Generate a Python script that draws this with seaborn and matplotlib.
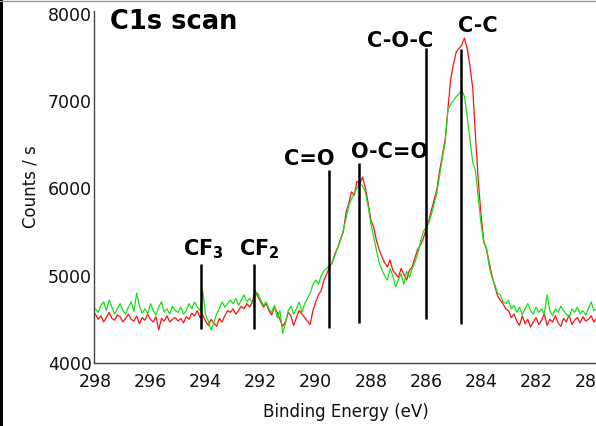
import numpy as np
import pandas as pd
import matplotlib
matplotlib.use("Agg")
import matplotlib.pyplot as plt
import seaborn as sns
from matplotlib.patches import Rectangle
from matplotlib.lines import Line2D

# ---------------- data ----------------
be_start, be_step = 298.0, -0.1   # binding energy sampling of the scan (eV)

red_counts = [
    4560, 4500, 4540, 4470, 4520, 4580, 4510, 4490, 4550, 4530,
    4470, 4510, 4560, 4500, 4480, 4540, 4450, 4520, 4490, 4560,
    4500, 4470, 4530, 4380, 4510, 4480, 4540, 4470, 4500, 4520,
    4480, 4510, 4460, 4530, 4500, 4570, 4540, 4600, 4520, 4550,
    4480, 4430, 4500, 4460, 4420, 4510, 4470, 4540, 4600, 4580,
    4620, 4560, 4600, 4650, 4620, 4680, 4640, 4700, 4830, 4760,
    4700, 4640, 4680, 4600, 4550, 4640, 4580, 4500, 4420, 4470,
    4580, 4540, 4430, 4520, 4600, 4560, 4520, 4480, 4440, 4600,
    4700, 4780, 4830, 4950, 5020, 5100, 5150, 5250, 5320, 5420,
    5500, 5720, 5830, 5960, 5920, 6080, 6050, 6130, 6010, 5840,
    5640, 5560, 5410, 5300, 5220, 5150, 5100, 5180, 5060, 5020,
    4980, 5080, 5020, 4950, 5060, 5100, 5200, 5300, 5350, 5420,
    5520, 5620, 5750, 5870, 5990, 6200, 6380, 6560, 6900, 7250,
    7420, 7560, 7600, 7640, 7720, 7600, 7400, 7150, 6600, 6100,
    5700, 5400, 5300, 5150, 5000, 4880, 4770, 4720, 4680, 4620,
    4600, 4520, 4560, 4480, 4430, 4540, 4450, 4500, 4410, 4470,
    4520, 4440, 4490, 4560, 4430, 4500, 4470, 4540, 4460, 4420,
    4510, 4470, 4550, 4440, 4490, 4520, 4460, 4530, 4480, 4500,
    4540, 4470, 4510,
]

green_counts = [
    4620, 4580, 4660, 4700, 4600, 4720, 4640, 4560, 4620, 4680,
    4600, 4560, 4640, 4700, 4590, 4800, 4650, 4570, 4620, 4560,
    4680, 4600, 4550, 4640, 4700, 4580, 4620, 4560, 4650, 4600,
    4580, 4640, 4560, 4600, 4680, 4620, 4700, 4640, 4600, 4820,
    4550, 4480, 4380, 4460, 4560, 4620, 4700, 4640, 4680, 4720,
    4680, 4740, 4660, 4720, 4780, 4700, 4740, 4680, 4760, 4800,
    4720, 4660, 4700, 4620, 4580, 4660, 4520, 4600, 4340, 4450,
    4600, 4650, 4560, 4620, 4700, 4580, 4680, 4740, 4800, 4900,
    4950, 4900, 5000, 5060, 5080, 5120, 5150, 5230, 5330, 5400,
    5520, 5650, 5800, 5880, 5950, 6000, 6050, 6030, 5960, 5800,
    5600, 5450, 5300, 5150, 5070, 5000, 4950, 5080, 5000, 4870,
    4950, 5020, 4900, 5050, 4980, 5080, 5150, 5250, 5380, 5500,
    5550, 5600, 5700, 5820, 5950, 6150, 6350, 6520, 6900, 6960,
    7000, 7050, 7080, 7130, 7050, 6820, 6560, 6300, 6200, 5900,
    5600, 5380, 5320, 5100, 4980, 4900, 4800, 4780, 4700, 4680,
    4720, 4620, 4660, 4580, 4640, 4550, 4620, 4680, 4600, 4560,
    4640, 4580, 4620, 4560, 4780, 4600, 4540, 4620, 4580, 4650,
    4600, 4560, 4520, 4620, 4580, 4640, 4560, 4600, 4550, 4620,
    4700, 4600, 4620,
]

# component marker lines: label, energy, bottom / top count level
peak_names = [r"CF$_\mathbf{3}$", r"CF$_\mathbf{2}$", "C=O", "O-C=O", "C-O-C", "C-C"]
peak_be = [294.18, 292.25, 289.50, 288.44, 286.00, 284.73]
peak_line_bottom = [4390, 4390, 4400, 4459, 4505, 4447]
peak_line_top = [5135, 5135, 6213, 6293, 7612, 7590]

x_ticks = [298, 296, 294, 292, 290, 288, 286, 284, 282, 280]
y_ticks = [4000, 5000, 6000, 7000, 8000]

# ---------------- build table ----------------
n = len(red_counts)
energy = np.round(be_start + be_step * np.arange(n), 2)
df = pd.concat([
    pd.DataFrame({"be": energy, "counts": red_counts, "scan": "red"}),
    pd.DataFrame({"be": energy, "counts": green_counts, "scan": "green"}),
], ignore_index=True)

# ---------------- plot ----------------
sns.set_style("white")
plt.rcParams["font.family"] = ["DejaVu Sans"]

fig = plt.figure(figsize=(5.96, 4.26), dpi=100)
ax = fig.add_axes([94 / 596, 1 - 363 / 426, 1 - 94 / 596 + 0.002, (363 - 11) / 426])

sns.lineplot(data=df, x="be", y="counts", hue="scan",
             palette={"red": "#ff1010", "green": "#18e018"},
             hue_order=["red", "green"], estimator=None, sort=True,
             linewidth=0.9, legend=False, ax=ax)

ax.set_xlim(298.05, 279.78)
ax.set_ylim(4000, 8030)

ax.set_xticks(x_ticks)
ax.set_xticklabels([str(t) for t in x_ticks])
ax.set_yticks(y_ticks)
ax.set_yticklabels([str(t) for t in y_ticks])
ax.set_xticks([297, 292, 287, 285, 282], minor=True)
ax.set_yticks([4500, 5500, 6500, 7500], minor=True)
ax.tick_params(axis="x", which="major", length=0, pad=7.5, labelsize=12.5, colors="#111111")
ax.tick_params(axis="y", which="major", length=0, pad=1.5, labelsize=12.5, colors="#111111")
ax.tick_params(which="minor", direction="in", length=2.5, width=0.8, color="#444444")

for side in ["top", "right"]:
    ax.spines[side].set_visible(False)
for side in ["left", "bottom"]:
    ax.spines[side].set_color("#444444")
    ax.spines[side].set_linewidth(1.0)

ax.set_xlabel("Binding Energy (eV)", fontsize=12, labelpad=8, color="#111111")
ax.set_ylabel("Counts / s", fontsize=12, labelpad=6, color="#111111")

# component lines
ax.vlines(peak_be, peak_line_bottom, peak_line_top, colors="black", linewidth=1.8, zorder=5)

label_pos = [(294.07, 5227), (292.04, 5227), (290.25, 6271),
             (287.31, 6351), (286.95, 7613), (284.11, 7785)]
for name, (lx, ly) in zip(peak_names, label_pos):
    ax.text(lx, ly, name, ha="center", va="baseline", fontsize=15,
            fontweight="bold", color="black", zorder=6)

ax.text(0.032, 1.006, "C1s scan", transform=ax.transAxes, ha="left", va="top",
        fontsize=18.5, fontweight="bold", color="black")

# screenshot frame artefacts
fig.add_artist(Rectangle((0, 0), 3 / 596, 1, transform=fig.transFigure,
                         facecolor="black", edgecolor="none"))
fig.add_artist(Line2D([0, 1], [1 - 0.5 / 426, 1 - 0.5 / 426], transform=fig.transFigure,
                      color="#999999", linewidth=1.0))

fig.savefig("out.png", dpi=100)
